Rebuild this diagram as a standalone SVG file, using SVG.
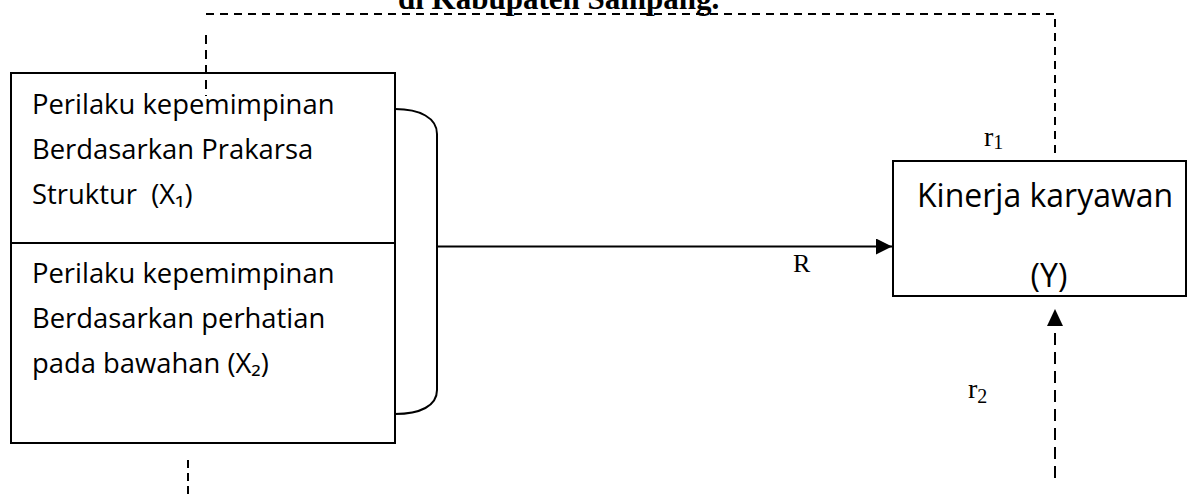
<svg xmlns="http://www.w3.org/2000/svg" width="1198" height="497" viewBox="0 0 1198 497">
<style>
  .box{fill:#fff;stroke:#000;stroke-width:2}
  .txt{font-family:"Open Sans","Noto Sans",sans-serif;font-size:27.4px;fill:#000;white-space:pre}
  .big{font-family:"Open Sans","Noto Sans",sans-serif;font-size:32px;fill:#000}
  .math{font-family:"Liberation Serif","DejaVu Serif",serif;fill:#000}
  .solid{fill:none;stroke:#000;stroke-width:2}
  .dash{fill:none;stroke:#000;stroke-width:2}
</style>
<defs>
  <marker id="arrow" viewBox="0 0 16 16" refX="16" refY="8" markerWidth="16" markerHeight="16" markerUnits="userSpaceOnUse" orient="auto">
    <path d="M0,0 L16,8 L0,16 Z" fill="#000"/>
  </marker>
</defs>
<rect width="1198" height="497" fill="#fff"/>
<text x="398" y="9" font-family="'Liberation Serif',serif" font-weight="bold" font-size="31" fill="#000">di Kabupaten Sampang.</text>
<g id="node-x">
  <rect class="box" x="11" y="73" width="384" height="370"/>
  <line class="solid" x1="11" y1="243" x2="395" y2="243"/>
  <g id="node-x1">
    <text class="txt" x="32" y="114">Perilaku kepemimpinan</text>
    <text class="txt" x="32" y="159">Berdasarkan Prakarsa</text>
    <text class="txt" x="32" y="204" xml:space="preserve">Struktur  (X₁)</text>
  </g>
  <g id="node-x2">
    <text class="txt" x="32" y="283">Perilaku kepemimpinan</text>
    <text class="txt" x="32" y="328">Berdasarkan perhatian</text>
    <text class="txt" x="32" y="373">pada bawahan (X₂)</text>
  </g>
</g>
<g id="node-y">
  <rect class="box" x="893" y="161" width="293" height="135"/>
  <text class="big" x="917" y="207">Kinerja karyawan</text>
  <text class="big" x="1049" y="287" text-anchor="middle">(Y)</text>
</g>
<g id="connectors">
  <path class="dash" d="M206,14 H1055 V156" stroke-dasharray="8 6"/>
  <line class="dash" x1="206" y1="35" x2="206" y2="96" stroke-dasharray="9 6"/>
  <line class="dash" x1="188" y1="460" x2="188" y2="497" stroke-dasharray="8 5"/>
  <path class="solid" d="M395,109 C420,109 437,118 437,134 L437,390 C437,406 420,414 395,414"/>
  <line class="solid" x1="437" y1="246.5" x2="892" y2="246.5" marker-end="url(#arrow)"/>
  <line class="dash" x1="1055" y1="478" x2="1055" y2="326" stroke-dasharray="12 7"/>
  <path d="M1047,326 L1055,309 L1063,326 Z" fill="#000"/>
  <text class="math" x="793" y="272" font-size="26">R</text>
  <text class="math" x="984" y="146" font-size="28">r<tspan font-size="20" dy="3">1</tspan></text>
  <text class="math" x="968" y="398" font-size="28">r<tspan font-size="20" dy="5">2</tspan></text>
</g>
</svg>
